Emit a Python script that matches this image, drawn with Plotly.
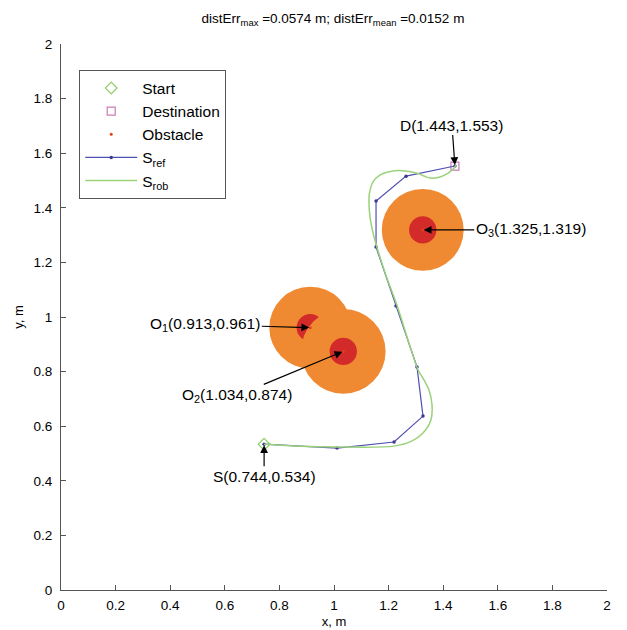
import plotly.graph_objects as go

# reference path S_ref (waypoints)
ref_x = [0.744, 1.011, 1.220, 1.326, 1.304, 1.227, 1.154, 1.154, 1.264, 1.443]
ref_y = [0.534, 0.520, 0.542, 0.637, 0.817, 1.040, 1.256, 1.425, 1.516, 1.553]

# robot path S_rob
rob_x = [0.744, 0.875, 1.011, 1.220, 1.286, 1.326, 1.355, 1.359, 1.348, 1.330, 1.308,
         1.271, 1.234, 1.190, 1.158, 1.143, 1.132, 1.128, 1.132, 1.143, 1.168, 1.216,
         1.260, 1.304, 1.352, 1.388, 1.418, 1.440, 1.447]
rob_y = [0.534, 0.527, 0.524, 0.527, 0.546, 0.575, 0.623, 0.678, 0.733, 0.769, 0.806,
         0.916, 1.033, 1.154, 1.253, 1.308, 1.366, 1.429, 1.465, 1.495, 1.520, 1.535,
         1.535, 1.527, 1.509, 1.513, 1.527, 1.546, 1.557]

start = (0.744, 0.534)
dest = (1.443, 1.553)

obs_names = ["O<sub>1</sub>", "O<sub>2</sub>", "O<sub>3</sub>"]
obs_x = [0.913, 1.034, 1.325]
obs_y = [0.961, 0.874, 1.319]
outer_r = [0.15, 0.155, 0.15]
inner_r = [0.05, 0.05, 0.05]

title_text = "distErr<sub>max</sub> =0.0574 m; distErr<sub>mean</sub> =0.0152 m"
x_ticks = [0, 0.2, 0.4, 0.6, 0.8, 1, 1.2, 1.4, 1.6, 1.8, 2]
y_ticks = [0, 0.2, 0.4, 0.6, 0.8, 1, 1.2, 1.4, 1.6, 1.8, 2]

FONT = "Liberation Sans, Arial, sans-serif"
ORANGE = "#f08a32"
RED = "#d32a2a"

fig = go.Figure()

shapes = []
for cx, cy, ro, ri in zip(obs_x, obs_y, outer_r, inner_r):
    shapes.append(dict(type="circle", xref="x", yref="y", x0=cx - ro, x1=cx + ro,
                       y0=cy - ro, y1=cy + ro, fillcolor=ORANGE, line=dict(width=0), layer="below"))
    shapes.append(dict(type="circle", xref="x", yref="y", x0=cx - ri, x1=cx + ri,
                       y0=cy - ri, y1=cy + ri, fillcolor=RED, line=dict(width=0), layer="below"))

fig.add_trace(go.Scatter(x=[start[0]], y=[start[1]], mode="markers", name="Start",
                         marker=dict(symbol="diamond-open", color="#8fcf6a", size=9, line=dict(width=1.2))))
fig.add_trace(go.Scatter(x=[dest[0]], y=[dest[1]], mode="markers", name="Destination",
                         marker=dict(symbol="square-open", color="#c87cb4", size=8, line=dict(width=1.2))))
fig.add_trace(go.Scatter(x=obs_x, y=obs_y, mode="markers", name="Obstacle",
                         marker=dict(symbol="circle", color="#e04020", size=3)))
fig.add_trace(go.Scatter(x=ref_x, y=ref_y, mode="lines+markers", name="S<sub>ref</sub>",
                         line=dict(color="#5050b0", width=1.2),
                         marker=dict(symbol="circle", color="#3a3a90", size=3.5)))
fig.add_trace(go.Scatter(x=rob_x, y=rob_y, mode="lines", name="S<sub>rob</sub>",
                         line=dict(color="#9ad27a", width=1.5, shape="spline", smoothing=0.8)))

annots = [
    dict(x=dest[0], y=dest[1], text="D(%.3f,%.3f)" % dest, ax=-3, ay=-41),
    dict(x=obs_x[2], y=obs_y[2], text="%s(%.3f,%.3f)" % (obs_names[2], obs_x[2], obs_y[2]), ax=108, ay=0),
    dict(x=obs_x[0], y=obs_y[0], text="%s(%.3f,%.3f)" % (obs_names[0], obs_x[0], obs_y[0]), ax=-105, ay=-3),
    dict(x=obs_x[1], y=obs_y[1], text="%s(%.3f,%.3f)" % (obs_names[1], obs_x[1], obs_y[1]), ax=-106, ay=44),
    dict(x=start[0], y=start[1], text="S(%.3f,%.3f)" % start, ax=0, ay=32),
]
annotations = []
for a in annots:
    a.update(xref="x", yref="y", showarrow=True, arrowhead=2, arrowsize=1.3, arrowwidth=1.2,
             arrowcolor="black", font=dict(family=FONT, size=15.5, color="black"), standoff=1)
    annotations.append(a)

axis_common = dict(range=[0, 2], showgrid=False, zeroline=False, showline=True,
                   linecolor="#555555", linewidth=1.2, ticks="inside", ticklen=5,
                   tickcolor="#555555", mirror=False, automargin=False,
                   tickfont=dict(family=FONT, size=13.5, color="black"))

fig.update_layout(
    width=619, height=622,
    margin=dict(l=53, r=20, t=36, b=40, autoexpand=False),
    paper_bgcolor="white", plot_bgcolor="white",
    title=dict(text=title_text, x=0.525, xanchor="center", y=0.984, yanchor="middle",
               font=dict(family=FONT, size=13.5, color="black")),
    xaxis=dict(tickvals=x_ticks, ticktext=[("%g" % v) for v in x_ticks], ticklabelstandoff=3,
               title=dict(text="x, m", standoff=4, font=dict(family=FONT, size=13, color="black")),
               **axis_common),
    yaxis=dict(tickvals=y_ticks, ticktext=[("%g" % v) for v in y_ticks], ticklabelstandoff=5,
               title=dict(text="y, m", standoff=6, font=dict(family=FONT, size=13, color="black")),
               **axis_common),
    shapes=shapes,
    annotations=annotations,
    showlegend=True,
    legend=dict(x=0.033, y=0.952, xanchor="left", yanchor="top", bgcolor="white",
                bordercolor="#555555", borderwidth=1.2,
                font=dict(family=FONT, size=15.5, color="black"), tracegroupgap=0,
                itemwidth=52),
)

fig.write_html("out.html")
